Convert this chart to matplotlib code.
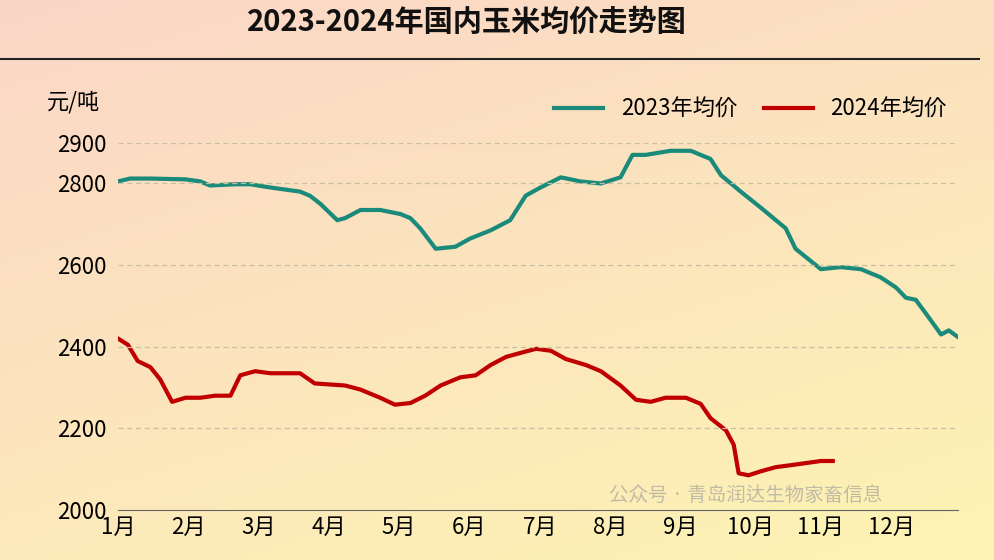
import numpy as np
import matplotlib.pyplot as plt
from matplotlib import font_manager

cjk = [f.name for f in font_manager.fontManager.ttflist if "CJK" in f.name]
cjk_name = "Noto Sans CJK SC" if "Noto Sans CJK SC" in cjk else (cjk[0] if cjk else "DejaVu Sans")
plt.rcParams["font.family"] = [cjk_name]

# x positions in months (1 = start of Jan)
x23 = [1.00, 1.17, 1.46, 1.96, 2.17, 2.31, 2.67, 2.88, 3.17, 3.59, 3.73, 3.88, 4.12,
       4.23, 4.45, 4.73, 5.02, 5.16, 5.30, 5.52, 5.80, 6.01, 6.30, 6.58, 6.80, 7.01,
       7.30, 7.58, 7.87, 8.15, 8.32, 8.51, 8.86, 9.15, 9.43, 9.58, 9.86, 10.15, 10.50,
       10.64, 11.00, 11.28, 11.57, 11.85, 12.07, 12.21, 12.35, 12.50, 12.71, 12.82, 12.94]
y23 = [2805, 2812, 2812, 2810, 2805, 2795, 2798, 2798, 2790, 2780, 2770, 2750, 2710,
       2715, 2735, 2735, 2725, 2715, 2690, 2640, 2645, 2665, 2685, 2710, 2770, 2790,
       2815, 2805, 2800, 2815, 2870, 2870, 2880, 2880, 2860, 2820, 2780, 2740, 2690,
       2640, 2590, 2595, 2590, 2570, 2545, 2520, 2515, 2480, 2430, 2440, 2425]

x24 = [1.00, 1.14, 1.28, 1.46, 1.60, 1.77, 1.96, 2.17, 2.38, 2.60, 2.74, 2.95, 3.17,
       3.59, 3.80, 4.23, 4.45, 4.73, 4.94, 5.16, 5.37, 5.59, 5.87, 6.09, 6.30, 6.52,
       6.73, 6.95, 7.16, 7.37, 7.66, 7.87, 8.15, 8.37, 8.58, 8.79, 9.08, 9.29, 9.43,
       9.65, 9.76, 9.83, 9.97, 10.15, 10.36, 10.58, 10.79, 11.00, 11.17]
y24 = [2420, 2405, 2365, 2350, 2320, 2265, 2275, 2275, 2280, 2280, 2330, 2340, 2335,
       2335, 2310, 2305, 2295, 2275, 2258, 2262, 2280, 2305, 2325, 2330, 2355, 2375,
       2385, 2395, 2390, 2370, 2355, 2340, 2305, 2270, 2265, 2275, 2275, 2260, 2225,
       2195, 2160, 2090, 2085, 2095, 2105, 2110, 2115, 2120, 2120]

months = [f"{m}月" for m in range(1, 13)]
yticks = [2000, 2200, 2400, 2600, 2800, 2900]

fig = plt.figure(figsize=(9.94, 5.6), dpi=100)

# background gradient
bg = fig.add_axes([0, 0, 1, 1])
gx, gy = np.meshgrid(np.linspace(0, 1, 200), np.linspace(0, 1, 200))
t = np.clip(0.65 * gy + 0.35 * gx, 0, 1)[..., None]
c_top = np.array([251, 214, 200]) / 255
c_bot = np.array([253, 244, 178]) / 255
bg.imshow(c_top * (1 - t) + c_bot * t, aspect="auto", extent=[0, 1, 0, 1], origin="upper")
bg.axis("off")

fig.text(0.47, 0.962, "2023-2024年国内玉米均价走势图", ha="center", va="center",
         fontsize=21, fontweight="bold", color="#111111")
bg.plot([0.0, 0.985], [0.895, 0.895], color="#222222", lw=1.5)

ax = fig.add_axes([0.1187, 0.0893, 0.845, 0.656])
ax.patch.set_alpha(0)
ax.plot(x23, y23, color="#1a8a7a", lw=3, label="2023年均价")
ax.plot(x24, y24, color="#c00000", lw=3, label="2024年均价")
ax.set_xlim(1, 12.95)
ax.set_ylim(2000, 2900)
ax.set_yticks(yticks)
ax.set_xticks(range(1, 13))
ax.set_xticklabels(months, fontsize=16)
ax.tick_params(axis="y", labelsize=16, length=0, pad=8)
ax.tick_params(axis="x", length=0, pad=4)
for yv in yticks[1:]:
    ax.axhline(yv, color="#c8bfa0", lw=0.9, ls=(0, (4, 3)))
for s in ["top", "right", "left"]:
    ax.spines[s].set_visible(False)
ax.spines["bottom"].set_color("#666666")
ax.text(-0.085, 1.11, "元/吨", transform=ax.transAxes, fontsize=16, va="center")
ax.legend(loc="lower right", bbox_to_anchor=(1.0, 1.03), ncol=2, frameon=False,
          fontsize=16, handlelength=2.2, columnspacing=1.2, borderpad=0)

fig.text(0.75, 0.115, "公众号 · 青岛润达生物家畜信息", fontsize=14, color="#999999",
         alpha=0.6, ha="center", va="center")

fig.savefig("out.png", dpi=100)
